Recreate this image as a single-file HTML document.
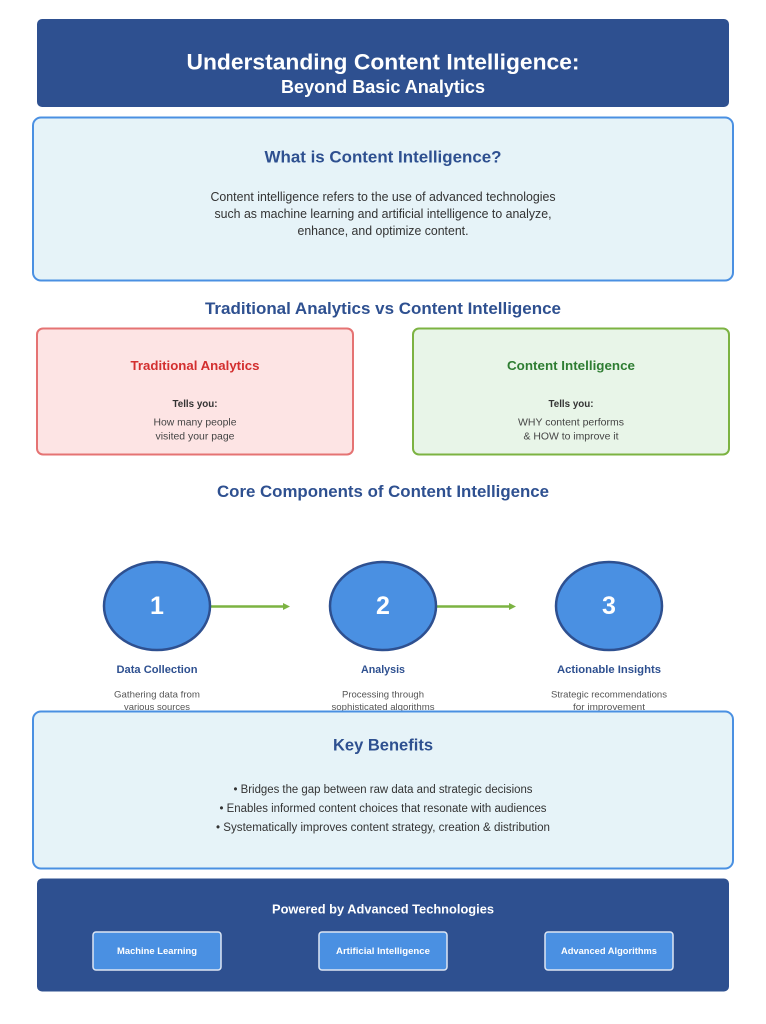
<!DOCTYPE html>
<html>
<head>
<meta charset="utf-8">
<style>
html,body{margin:0;padding:0;background:#fff;}
svg{display:block;}
text{font-family:"Liberation Sans","DejaVu Sans",sans-serif;}
</style>
</head>
<body>
<svg width="766" height="1024" viewBox="0 0 766 1024" xmlns="http://www.w3.org/2000/svg">
  <rect x="0" y="0" width="766" height="1024" fill="#ffffff"/>

  <!-- Header -->
  <rect x="37" y="19" width="692" height="88" rx="5" fill="#2e5090"/>
  <text x="383" y="69.5" text-anchor="middle" font-size="22" font-weight="bold" fill="#ffffff" textLength="393" lengthAdjust="spacingAndGlyphs">Understanding Content Intelligence:</text>
  <text x="383" y="93" text-anchor="middle" font-size="18" font-weight="bold" fill="#ffffff" textLength="204" lengthAdjust="spacingAndGlyphs">Beyond Basic Analytics</text>

  <!-- What is -->
  <rect x="33" y="117.5" width="700" height="163" rx="8" fill="#e6f3f8" stroke="#4a90e2" stroke-width="2"/>
  <text x="383" y="162.5" text-anchor="middle" font-size="17" font-weight="bold" fill="#2e5090" textLength="237" lengthAdjust="spacingAndGlyphs">What is Content Intelligence?</text>
  <text x="383" y="201" text-anchor="middle" font-size="12.5" fill="#333" textLength="345" lengthAdjust="spacingAndGlyphs">Content intelligence refers to the use of advanced technologies</text>
  <text x="383" y="218" text-anchor="middle" font-size="12.5" fill="#333" textLength="337" lengthAdjust="spacingAndGlyphs">such as machine learning and artificial intelligence to analyze,</text>
  <text x="383" y="235" text-anchor="middle" font-size="12.5" fill="#333" textLength="171" lengthAdjust="spacingAndGlyphs">enhance, and optimize content.</text>

  <!-- Comparison -->
  <text x="383" y="314" text-anchor="middle" font-size="17" font-weight="bold" fill="#2e5090" textLength="356" lengthAdjust="spacingAndGlyphs">Traditional Analytics vs Content Intelligence</text>

  <rect x="37" y="328.5" width="316" height="126" rx="6" fill="#fde4e4" stroke="#e57373" stroke-width="2"/>
  <text x="195" y="370" text-anchor="middle" font-size="13" font-weight="bold" fill="#d32f2f" textLength="129" lengthAdjust="spacingAndGlyphs">Traditional Analytics</text>
  <text x="195" y="407" text-anchor="middle" font-size="10" font-weight="bold" fill="#333" textLength="45" lengthAdjust="spacingAndGlyphs">Tells you:</text>
  <text x="195" y="425.5" text-anchor="middle" font-size="10" fill="#444" textLength="83" lengthAdjust="spacingAndGlyphs">How many people</text>
  <text x="195" y="439.5" text-anchor="middle" font-size="10" fill="#444" textLength="79" lengthAdjust="spacingAndGlyphs">visited your page</text>

  <rect x="413" y="328.5" width="316" height="126" rx="6" fill="#e8f5e8" stroke="#7cb342" stroke-width="2"/>
  <text x="571" y="370" text-anchor="middle" font-size="13" font-weight="bold" fill="#2e7d32" textLength="128" lengthAdjust="spacingAndGlyphs">Content Intelligence</text>
  <text x="571" y="407" text-anchor="middle" font-size="10" font-weight="bold" fill="#333" textLength="45" lengthAdjust="spacingAndGlyphs">Tells you:</text>
  <text x="571" y="425.5" text-anchor="middle" font-size="10" fill="#444" textLength="106" lengthAdjust="spacingAndGlyphs">WHY content performs</text>
  <text x="571" y="439.5" text-anchor="middle" font-size="10" fill="#444" textLength="95" lengthAdjust="spacingAndGlyphs">&amp; HOW to improve it</text>

  <!-- Core components -->
  <text x="383" y="497" text-anchor="middle" font-size="17" font-weight="bold" fill="#2e5090" textLength="332" lengthAdjust="spacingAndGlyphs">Core Components of Content Intelligence</text>

  <line x1="211" y1="606.5" x2="284" y2="606.5" stroke="#7cb342" stroke-width="2.5"/>
  <polygon points="283,603 290,606.5 283,610" fill="#7cb342"/>
  <line x1="437" y1="606.5" x2="510" y2="606.5" stroke="#7cb342" stroke-width="2.5"/>
  <polygon points="509,603 516,606.5 509,610" fill="#7cb342"/>

  <ellipse cx="157" cy="606" rx="53" ry="44" fill="#4a90e2" stroke="#2e5090" stroke-width="2.5"/>
  <ellipse cx="383" cy="606" rx="53" ry="44" fill="#4a90e2" stroke="#2e5090" stroke-width="2.5"/>
  <ellipse cx="609" cy="606" rx="53" ry="44" fill="#4a90e2" stroke="#2e5090" stroke-width="2.5"/>
  <text x="157" y="614" text-anchor="middle" font-size="25" font-weight="bold" fill="#ffffff">1</text>
  <text x="383" y="614" text-anchor="middle" font-size="25" font-weight="bold" fill="#ffffff">2</text>
  <text x="609" y="614" text-anchor="middle" font-size="25" font-weight="bold" fill="#ffffff">3</text>

  <text x="157" y="673" text-anchor="middle" font-size="11" font-weight="bold" fill="#2e5090" textLength="81" lengthAdjust="spacingAndGlyphs">Data Collection</text>
  <text x="383" y="673" text-anchor="middle" font-size="11" font-weight="bold" fill="#2e5090" textLength="44" lengthAdjust="spacingAndGlyphs">Analysis</text>
  <text x="609" y="673" text-anchor="middle" font-size="11" font-weight="bold" fill="#2e5090" textLength="104" lengthAdjust="spacingAndGlyphs">Actionable Insights</text>

  <text x="157" y="697.5" text-anchor="middle" font-size="9.5" fill="#555" textLength="86" lengthAdjust="spacingAndGlyphs">Gathering data from</text>
  <text x="157" y="710" text-anchor="middle" font-size="9.5" fill="#555" textLength="66" lengthAdjust="spacingAndGlyphs">various sources</text>
  <text x="383" y="697.5" text-anchor="middle" font-size="9.5" fill="#555" textLength="82" lengthAdjust="spacingAndGlyphs">Processing through</text>
  <text x="383" y="710" text-anchor="middle" font-size="9.5" fill="#555" textLength="103" lengthAdjust="spacingAndGlyphs">sophisticated algorithms</text>
  <text x="609" y="697.5" text-anchor="middle" font-size="9.5" fill="#555" textLength="116" lengthAdjust="spacingAndGlyphs">Strategic recommendations</text>
  <text x="609" y="710" text-anchor="middle" font-size="9.5" fill="#555" textLength="72" lengthAdjust="spacingAndGlyphs">for improvement</text>

  <!-- Key benefits -->
  <rect x="33" y="711.5" width="700" height="157" rx="8" fill="#e6f3f8" stroke="#4a90e2" stroke-width="2"/>
  <text x="383" y="750.5" text-anchor="middle" font-size="17" font-weight="bold" fill="#2e5090" textLength="100" lengthAdjust="spacingAndGlyphs">Key Benefits</text>
  <text x="383" y="793" text-anchor="middle" font-size="11.5" fill="#333" textLength="299" lengthAdjust="spacingAndGlyphs">• Bridges the gap between raw data and strategic decisions</text>
  <text x="383" y="812" text-anchor="middle" font-size="11.5" fill="#333" textLength="327" lengthAdjust="spacingAndGlyphs">• Enables informed content choices that resonate with audiences</text>
  <text x="383" y="831" text-anchor="middle" font-size="11.5" fill="#333" textLength="334" lengthAdjust="spacingAndGlyphs">• Systematically improves content strategy, creation &amp; distribution</text>

  <!-- Footer -->
  <rect x="37" y="878.5" width="692" height="113" rx="5" fill="#2e5090"/>
  <text x="383" y="913.5" text-anchor="middle" font-size="13" font-weight="bold" fill="#ffffff" textLength="222" lengthAdjust="spacingAndGlyphs">Powered by Advanced Technologies</text>

  <rect x="93" y="932" width="128" height="38" rx="3" fill="#4a90e2" stroke="#dde6f3" stroke-width="1.5"/>
  <rect x="319" y="932" width="128" height="38" rx="3" fill="#4a90e2" stroke="#dde6f3" stroke-width="1.5"/>
  <rect x="545" y="932" width="128" height="38" rx="3" fill="#4a90e2" stroke="#dde6f3" stroke-width="1.5"/>
  <text x="157" y="954" text-anchor="middle" font-size="9.5" font-weight="bold" fill="#ffffff" textLength="80" lengthAdjust="spacingAndGlyphs">Machine Learning</text>
  <text x="383" y="954" text-anchor="middle" font-size="9.5" font-weight="bold" fill="#ffffff" textLength="94" lengthAdjust="spacingAndGlyphs">Artificial Intelligence</text>
  <text x="609" y="954" text-anchor="middle" font-size="9.5" font-weight="bold" fill="#ffffff" textLength="96" lengthAdjust="spacingAndGlyphs">Advanced Algorithms</text>
</svg>
</body>
</html>
